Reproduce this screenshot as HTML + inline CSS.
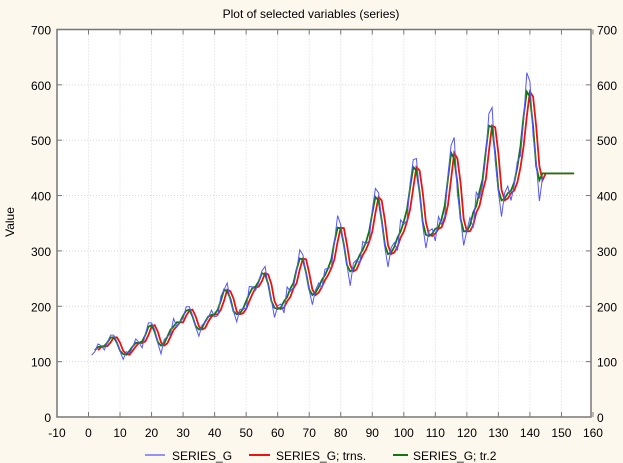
<!DOCTYPE html>
<html><head><meta charset="utf-8"><style>
body{margin:0;background:#fdf8ee;}
svg{display:block;font-family:"Liberation Sans",Arial,sans-serif;font-size:12px;}
</style></head><body>
<svg id="s" width="623" height="463" xmlns="http://www.w3.org/2000/svg">
<rect width="623" height="463" fill="#fdf8ee"/>
<text x="311" y="18" text-anchor="middle" font-size="12">Plot of selected variables (series)</text>
<text transform="translate(14,222) rotate(-90)" text-anchor="middle" font-size="12">Value</text>
<rect x="57" y="29.5" width="534" height="387.5" fill="#fff"/>
<g id="grid"></g>
<g id="series"></g>
<rect x="57" y="29.5" width="534" height="387.5" fill="none" stroke="#777" stroke-width="1.5"/>
<g id="lab"></g>
<line x1="145" y1="455" x2="165" y2="455" stroke="#5555ff" stroke-width="1.2"/>
<text x="172" y="460">SERIES_G</text>
<line x1="249" y1="455" x2="270" y2="455" stroke="#ee1111" stroke-width="2"/>
<text x="276" y="460">SERIES_G; trns.</text>
<line x1="393" y1="455" x2="408" y2="455" stroke="#117711" stroke-width="2"/>
<text x="413" y="460">SERIES_G; tr.2</text>
</svg>
<script>
var d=[112,118,132,129,121,135,148,148,136,119,104,118,115,126,141,135,125,149,170,170,158,133,114,140,145,150,178,163,172,178,199,199,184,162,146,166,171,180,193,181,183,218,230,242,209,191,172,194,196,196,236,235,229,243,264,272,237,211,180,201,204,188,235,227,234,264,302,293,259,229,203,229,242,233,267,269,270,315,364,347,312,274,237,278,284,277,317,313,318,374,413,405,355,306,271,306,315,301,356,348,355,422,465,467,404,347,305,336,340,318,362,348,363,435,491,505,404,359,310,337,360,342,406,396,420,472,548,559,463,407,362,405,417,391,419,461,472,535,622,606,508,461,390,432];
function X(t){return 88.5+t*3.153;}
function Y(v){return 417-v*0.5536;}
var NS="http://www.w3.org/2000/svg";
function el(p,n,a,txt){var e=document.createElementNS(NS,n);for(var k in a)e.setAttribute(k,a[k]);if(txt!==undefined)e.textContent=txt;document.getElementById(p).appendChild(e);}
for(var v=0;v<=700;v+=100){var y=Y(v);
 if(v>0&&v<700)el("grid","line",{x1:57,x2:591,y1:y,y2:y,stroke:"#d8d8d8","stroke-dasharray":"1,2"});
 el("grid","line",{x1:57,x2:62,y1:y,y2:y,stroke:"#777"});el("grid","line",{x1:586,x2:591,y1:y,y2:y,stroke:"#777"});
 el("lab","text",{x:51,y:y+5,"text-anchor":"end"},v);el("lab","text",{x:597,y:y+5},v);}
for(var t=-10;t<=160;t+=10){var x=X(t);
 if(t>-10&&t<160)el("grid","line",{x1:x,x2:x,y1:29.5,y2:417,stroke:"#d8d8d8","stroke-dasharray":"1,2"});
 el("grid","line",{x1:x,x2:x,y1:417,y2:412,stroke:"#777"});el("grid","line",{x1:x,x2:x,y1:29.5,y2:34.5,stroke:"#777"});
 el("lab","text",{x:x,y:437,"text-anchor":"middle"},t);}
var b=[];for(var i=0;i<144;i++)b.push(X(i+1).toFixed(1)+","+Y(d[i]).toFixed(1));
var r=[],g=[];
for(var t=3;t<=144;t++){var m=(d[t-1]+d[t-2]+d[t-3])/3;r.push(X(t).toFixed(1)+","+Y(m).toFixed(1));g.push(X(t-1).toFixed(1)+","+Y(m).toFixed(1));}
r.push(X(145).toFixed(1)+","+Y(440).toFixed(1));r.push(X(154).toFixed(1)+","+Y(440).toFixed(1));
g.push(X(144).toFixed(1)+","+Y(440).toFixed(1));g.push(X(154).toFixed(1)+","+Y(440).toFixed(1));
el("series","polyline",{points:r.join(" "),fill:"none",stroke:"#ee1111","stroke-width":1.8});
el("series","polyline",{points:g.join(" "),fill:"none",stroke:"#117711","stroke-width":1.8});
el("series","polyline",{points:b.join(" "),fill:"none",stroke:"#5555ff","stroke-width":1});
</script>
</body></html>
